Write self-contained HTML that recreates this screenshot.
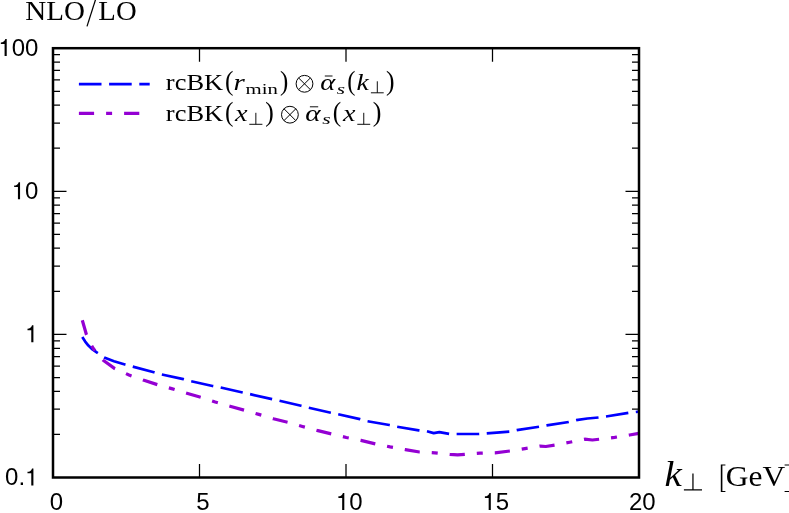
<!DOCTYPE html><html><head><meta charset="utf-8"><title>NLO/LO</title>
<style>html,body{margin:0;padding:0;background:#fff;overflow:hidden}svg{display:block;will-change:transform}text{fill:#000}.s{font-family:"Liberation Sans",sans-serif}.r{font-family:"Liberation Serif",serif}.i{font-family:"Liberation Serif",serif;font-style:italic}</style></head><body>
<svg width="789" height="513" viewBox="0 0 789 513">
<rect width="789" height="513" fill="#fff"/>
<path d="M199.5,477.5 v-13.5 M199.5,48.2 v13.5 M346.0,477.5 v-13.5 M346.0,48.2 v13.5 M492.5,477.5 v-13.5 M492.5,48.2 v13.5 M53.0,434.4 h7.0 M639.0,434.4 h-7.0 M53.0,409.2 h7.0 M639.0,409.2 h-7.0 M53.0,391.3 h7.0 M639.0,391.3 h-7.0 M53.0,377.5 h7.0 M639.0,377.5 h-7.0 M53.0,366.1 h7.0 M639.0,366.1 h-7.0 M53.0,356.6 h7.0 M639.0,356.6 h-7.0 M53.0,348.3 h7.0 M639.0,348.3 h-7.0 M53.0,340.9 h7.0 M639.0,340.9 h-7.0 M53.0,334.4 h13.5 M639.0,334.4 h-13.5 M53.0,291.3 h7.0 M639.0,291.3 h-7.0 M53.0,266.1 h7.0 M639.0,266.1 h-7.0 M53.0,248.2 h7.0 M639.0,248.2 h-7.0 M53.0,234.4 h7.0 M639.0,234.4 h-7.0 M53.0,223.0 h7.0 M639.0,223.0 h-7.0 M53.0,213.5 h7.0 M639.0,213.5 h-7.0 M53.0,205.2 h7.0 M639.0,205.2 h-7.0 M53.0,197.8 h7.0 M639.0,197.8 h-7.0 M53.0,191.3 h13.5 M639.0,191.3 h-13.5 M53.0,148.2 h7.0 M639.0,148.2 h-7.0 M53.0,123.0 h7.0 M639.0,123.0 h-7.0 M53.0,105.1 h7.0 M639.0,105.1 h-7.0 M53.0,91.3 h7.0 M639.0,91.3 h-7.0 M53.0,79.9 h7.0 M639.0,79.9 h-7.0 M53.0,70.4 h7.0 M639.0,70.4 h-7.0 M53.0,62.1 h7.0 M639.0,62.1 h-7.0 M53.0,54.7 h7.0 M639.0,54.7 h-7.0" stroke="#000" stroke-width="1.25" fill="none"/>
<path d="M82.3,337.1 L85.2,341.6 L88.4,345.6 L92.5,349.4 L97.1,352.7 L104.2,357.4 L114.0,361.2 L124.9,364.5 L132.4,366.5 L153.9,372.2 L161.4,374.4 L183.3,379.1 L190.8,381.1 L212.5,386.0 L220.3,387.4 L242.6,392.5 L249.7,394.1 L272.0,399.1 L279.1,400.6 L301.0,405.8 L308.5,407.7 L330.8,412.7 L337.9,414.2 L359.9,419.1 L367.4,421.2 L389.3,425.0 L396.8,426.7 L418.7,430.3 L426.2,431.1 L433.7,433.1 L439.4,432.1 L449.1,433.8 L456.6,434.0 L479.0,433.8 L486.5,433.3 L500.0,432.3 L509.3,431.7 L516.8,430.1 L539.3,426.7 L546.8,425.4 L568.7,422.0 L576.2,420.2 L587.4,418.5 L598.5,417.5 L606.0,416.5 L628.5,412.9 L636.0,412.0 L638.8,411.6" stroke="#0000ff" stroke-width="2.7" fill="none" stroke-dasharray="22.6 7.54" stroke-linejoin="round"/>
<path d="M82.3,320.3 L86.4,334.5 L89.5,342.0 L93.5,348.7 L98.0,355.0 L103.2,360.2 L114.8,368.6 L129.0,375.0 L143.2,380.1 L157.8,384.8 L171.6,388.6 L186.8,393.3 L201.0,397.4 L215.2,402.0 L230.0,406.2 L244.0,410.1 L258.8,414.4 L273.4,418.8 L287.8,422.3 L302.4,426.5 L317.0,430.4 L331.8,434.0 L346.3,437.5 L360.9,440.4 L375.5,443.9 L390.1,446.9 L405.3,449.6 L419.5,452.0 L434.9,452.8 L449.9,454.4 L457.6,454.8 L464.7,454.4 L480.0,453.2 L495.0,452.8 L509.9,451.0 L524.9,448.6 L540.1,446.1 L545.8,446.5 L554.9,445.1 L569.7,442.3 L584.7,439.2 L592.4,440.0 L599.5,439.2 L614.7,437.4 L629.6,435.0 L638.8,433.4" stroke="#9400d3" stroke-width="3.2" fill="none" stroke-dasharray="15.2 12 6 12" stroke-linejoin="round"/>
<path d="M78.9,84.2 H149.7" stroke="#0000ff" stroke-width="2.7" fill="none" stroke-dasharray="22.6 7.6"/>
<path d="M78.9,113.4 H149.7" stroke="#9400d3" stroke-width="3.2" fill="none" stroke-dasharray="15.2 12 6 12"/>
<rect x="53.0" y="48.2" width="586.0" height="429.3" fill="none" stroke="#000" stroke-width="2.5"/>
<path d="M4.58,56.10 L4.58,43.98 L0.82,43.98 L0.82,42.47 C3.07,42.35 4.68,41.53 5.35,39.08 L6.72,39.08 L6.72,56.10 Z" fill="#000"/><text class="s" font-size="24.0" x="11.71" y="56.1">0</text><text class="s" font-size="24.0" x="25.06" y="56.1">0</text>
<path d="M17.93,199.20 L17.93,187.08 L14.16,187.08 L14.16,185.57 C16.42,185.45 18.02,184.63 18.70,182.18 L20.06,182.18 L20.06,199.20 Z" fill="#000"/><text class="s" font-size="24.0" x="25.06" y="199.2">0</text>
<path d="M31.27,342.30 L31.27,330.18 L27.50,330.18 L27.50,328.67 C29.76,328.55 31.37,327.73 32.04,325.28 L33.41,325.28 L33.41,342.30 Z" fill="#000"/>
<text class="s" font-size="24.0" x="5.04" y="485.4">0</text><text class="s" font-size="24.0" x="18.38" y="485.4">.</text><path d="M31.27,485.40 L31.27,473.28 L27.50,473.28 L27.50,471.77 C29.76,471.65 31.37,470.83 32.04,468.38 L33.41,468.38 L33.41,485.40 Z" fill="#000"/>
<text class="s" font-size="24.0" x="49.63" y="510.0">0</text>
<text class="s" font-size="24.0" x="196.13" y="510.0">5</text>
<path d="M342.17,510.00 L342.17,497.88 L338.40,497.88 L338.40,496.37 C340.66,496.25 342.27,495.43 342.94,492.98 L344.31,492.98 L344.31,510.00 Z" fill="#000"/><text class="s" font-size="24.0" x="349.30" y="510.0">0</text>
<path d="M488.67,510.00 L488.67,497.88 L484.90,497.88 L484.90,496.37 C487.16,496.25 488.77,495.43 489.44,492.98 L490.81,492.98 L490.81,510.00 Z" fill="#000"/><text class="s" font-size="24.0" x="495.80" y="510.0">5</text>
<text class="s" font-size="24.0" x="628.96" y="510.0">2</text><text class="s" font-size="24.0" x="642.30" y="510.0">0</text>
<text class="r" font-size="28.00" x="25.36" y="19.90" textLength="59.63" lengthAdjust="spacingAndGlyphs">NLO</text>
<path d="M87.00,26.40 L95.60,-0.60" stroke="#000" stroke-width="1.25" fill="none"/>
<text class="r" font-size="28.00" x="98.37" y="19.90" textLength="38.31" lengthAdjust="spacingAndGlyphs">LO</text>
<text class="r" font-size="22.60" x="165.87" y="90.10" textLength="57.30" lengthAdjust="spacingAndGlyphs">rcBK</text>
<text class="r" font-size="27.30" x="224.89" y="90.10" textLength="8.43" lengthAdjust="spacingAndGlyphs">(</text>
<text class="i" font-size="22.60" x="233.52" y="90.10" textLength="11.29" lengthAdjust="spacingAndGlyphs">r</text>
<text class="r" font-size="15.60" x="245.56" y="93.50" textLength="32.35" lengthAdjust="spacingAndGlyphs">min</text>
<text class="r" font-size="27.30" x="280.10" y="90.10" textLength="8.30" lengthAdjust="spacingAndGlyphs">)</text>
<g stroke="#000" stroke-width="1.00" fill="none"><circle cx="304.50" cy="83.80" r="8.40"/><path d="M298.56,77.86 L310.44,89.74 M298.56,89.74 L310.44,77.86"/></g>
<text class="i" font-size="22.60" x="320.25" y="90.10" textLength="14.98" lengthAdjust="spacingAndGlyphs">α</text>
<path d="M324.80,76.00 L332.50,76.00" stroke="#000" stroke-width="0.95" fill="none"/>
<text class="i" font-size="15.60" x="336.74" y="93.50" textLength="8.31" lengthAdjust="spacingAndGlyphs">s</text>
<text class="r" font-size="27.30" x="347.22" y="90.10" textLength="8.17" lengthAdjust="spacingAndGlyphs">(</text>
<text class="i" font-size="22.60" x="356.60" y="90.10" textLength="12.29" lengthAdjust="spacingAndGlyphs">k</text>
<path d="M370.90,92.80 H383.70 M377.30,92.80 v-11.50" stroke="#000" stroke-width="0.95" fill="none"/>
<text class="r" font-size="27.30" x="386.07" y="90.10" textLength="8.56" lengthAdjust="spacingAndGlyphs">)</text>
<text class="r" font-size="22.60" x="165.87" y="120.60" textLength="57.30" lengthAdjust="spacingAndGlyphs">rcBK</text>
<text class="r" font-size="27.30" x="224.89" y="120.60" textLength="8.43" lengthAdjust="spacingAndGlyphs">(</text>
<text class="i" font-size="22.60" x="234.95" y="120.60" textLength="12.56" lengthAdjust="spacingAndGlyphs">x</text>
<path d="M249.30,124.30 H262.40 M255.85,124.30 v-11.50" stroke="#000" stroke-width="0.95" fill="none"/>
<text class="r" font-size="27.30" x="265.17" y="120.60" textLength="8.56" lengthAdjust="spacingAndGlyphs">)</text>
<g stroke="#000" stroke-width="1.00" fill="none"><circle cx="289.90" cy="114.70" r="8.40"/><path d="M283.96,108.76 L295.84,120.64 M283.96,120.64 L295.84,108.76"/></g>
<text class="i" font-size="22.60" x="305.33" y="120.60" textLength="15.28" lengthAdjust="spacingAndGlyphs">α</text>
<path d="M309.90,106.80 L318.20,106.80" stroke="#000" stroke-width="0.95" fill="none"/>
<text class="i" font-size="15.60" x="322.24" y="124.00" textLength="8.42" lengthAdjust="spacingAndGlyphs">s</text>
<text class="r" font-size="27.30" x="332.69" y="120.60" textLength="8.43" lengthAdjust="spacingAndGlyphs">(</text>
<text class="i" font-size="22.60" x="342.94" y="120.60" textLength="12.46" lengthAdjust="spacingAndGlyphs">x</text>
<path d="M357.30,124.30 H370.20 M363.75,124.30 v-11.50" stroke="#000" stroke-width="0.95" fill="none"/>
<text class="r" font-size="27.30" x="372.86" y="120.60" textLength="8.69" lengthAdjust="spacingAndGlyphs">)</text>
<text class="i" font-size="35.40" x="664.47" y="485.60" textLength="17.35" lengthAdjust="spacingAndGlyphs">k</text>
<path d="M683.90,489.85 H702.00 M692.95,489.85 v-16.40" stroke="#000" stroke-width="1.25" fill="none"/>
<path d="M725.4,464.4 H720.8 V492.1 H725.4 V491.1 H722.4 V465.4 H725.4 Z" fill="#000"/>
<text class="r" font-size="29.00" x="725.81" y="485.70" textLength="59.34" lengthAdjust="spacingAndGlyphs">GeV</text>
<path d="M784.6,464.4 H791 V492.1 H784.6 V491.1 H789.6 V465.4 H784.6 Z" fill="#000"/>
</svg></body></html>
